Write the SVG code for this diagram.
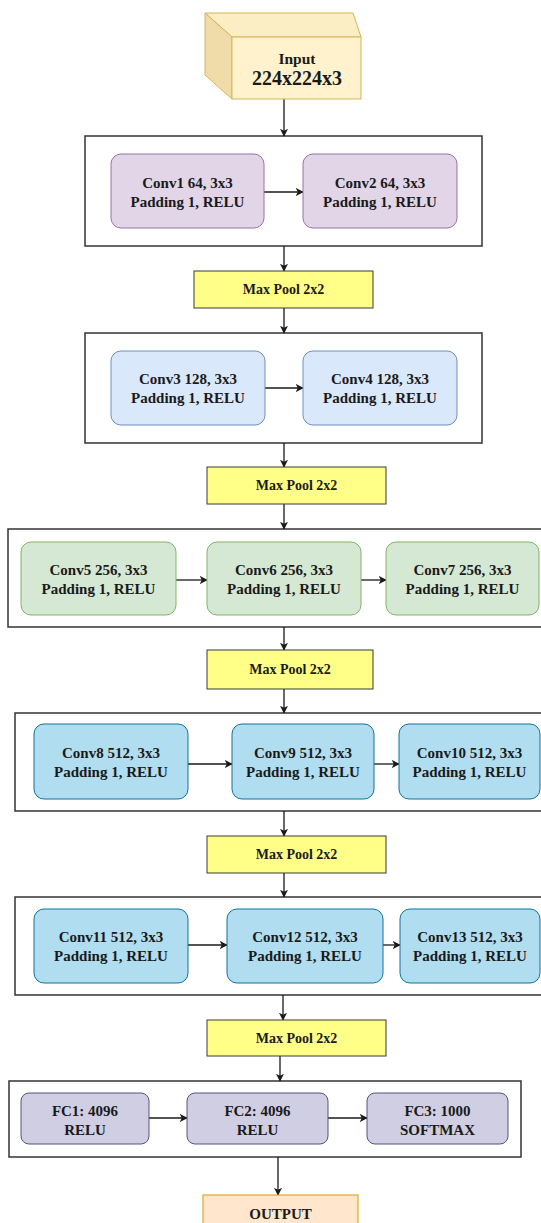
<svg xmlns="http://www.w3.org/2000/svg" width="541" height="1223" viewBox="0 0 541 1223">
  <style>
    text { font-family: "Liberation Serif", "Times New Roman", serif; font-weight: bold; fill: #1a1a1a; text-anchor: middle; }
    .t15 { font-size: 15px; }
    .t14 { font-size: 14px; }
    .stage { fill: #ffffff; stroke: #333333; stroke-width: 1.5; }
    .purple { fill: #e1d5e7; stroke: #9673a6; stroke-width: 1; }
    .sky { fill: #dae8fc; stroke: #6c8ebf; stroke-width: 1; }
    .green { fill: #d5e8d4; stroke: #82b366; stroke-width: 1; }
    .blue { fill: #b1ddf0; stroke: #10739e; stroke-width: 1; }
    .fc { fill: #d0cee2; stroke: #56517e; stroke-width: 1; }
    .pool { fill: #ffff88; stroke: #36393d; stroke-width: 1; }
    .out { fill: #ffe6cc; stroke: #d79b00; stroke-width: 1; }
    .edge { fill: none; stroke: #1a1a1a; stroke-width: 1.3; marker-end: url(#arrow); }
  </style>
  <defs>
    <marker id="arrow" viewBox="0 0 10 10" refX="9" refY="5" markerWidth="8" markerHeight="8" markerUnits="userSpaceOnUse" orient="auto">
      <path d="M0,0 L10,5 L0,10 L2.5,5 Z" fill="#1a1a1a"/>
    </marker>
  </defs>

  <!-- stage frames -->
  <g id="stages">
    <rect id="stage1" class="stage" x="85" y="136" width="397" height="110"/>
    <rect id="stage2" class="stage" x="85" y="333" width="397" height="110"/>
    <rect id="stage3" class="stage" x="8" y="529" width="535" height="98"/>
    <rect id="stage4" class="stage" x="15" y="713" width="528" height="98"/>
    <rect id="stage5" class="stage" x="15" y="897" width="528" height="98"/>
    <rect id="stage6" class="stage" x="9" y="1081" width="512" height="76"/>
  </g>

  <!-- connectors -->
  <g id="connectors">
    <line class="edge" x1="284" y1="99" x2="284" y2="136"/>
    <line class="edge" x1="284" y1="246" x2="284" y2="271"/>
    <line class="edge" x1="284" y1="308" x2="284" y2="333"/>
    <line class="edge" x1="284" y1="443" x2="284" y2="467"/>
    <line class="edge" x1="284" y1="504" x2="284" y2="529"/>
    <line class="edge" x1="284" y1="627" x2="284" y2="650"/>
    <line class="edge" x1="284" y1="689" x2="284" y2="713"/>
    <line class="edge" x1="284" y1="811" x2="284" y2="836"/>
    <line class="edge" x1="284" y1="873" x2="284" y2="897"/>
    <line class="edge" x1="283" y1="995" x2="283" y2="1020"/>
    <line class="edge" x1="280" y1="1056" x2="280" y2="1081"/>
    <line class="edge" x1="278" y1="1157" x2="278" y2="1195"/>

    <line class="edge" x1="264" y1="192" x2="303" y2="192"/>
    <line class="edge" x1="265" y1="388" x2="303" y2="388"/>
    <line class="edge" x1="176" y1="580" x2="207" y2="580"/>
    <line class="edge" x1="361" y1="580" x2="386" y2="580"/>
    <line class="edge" x1="188" y1="764" x2="232" y2="764"/>
    <line class="edge" x1="374" y1="764" x2="399" y2="764"/>
    <line class="edge" x1="188" y1="945" x2="227" y2="945"/>
    <line class="edge" x1="383" y1="945" x2="400" y2="945"/>
    <line class="edge" x1="149" y1="1118" x2="187" y2="1118"/>
    <line class="edge" x1="328" y1="1118" x2="367" y2="1118"/>
  </g>

  <!-- input volume -->
  <g id="input">
    <polygon points="205,13 353,13 361,37 232,37" fill="#fbedc4" stroke="#d6b656" stroke-width="1"/>
    <polygon points="205,13 232,37 232,99 205,75" fill="#f0dca8" stroke="#d6b656" stroke-width="1"/>
    <rect x="232" y="37" width="129" height="62" fill="#fff2cc" stroke="#d6b656" stroke-width="1"/>
    <text x="297" y="64" style="font-size:15.5px">Input</text>
    <text x="297" y="85" style="font-size:20px">224x224x3</text>
  </g>

  <!-- stage 1 -->
  <g id="conv1">
    <rect class="purple" x="111" y="154" width="153" height="74" rx="10"/>
    <text class="t15" x="187.5" y="188">Conv1 64, 3x3</text>
    <text class="t15" x="187.5" y="207">Padding 1, RELU</text>
  </g>
  <g id="conv2">
    <rect class="purple" x="303" y="154" width="154" height="74" rx="10"/>
    <text class="t15" x="380" y="188">Conv2 64, 3x3</text>
    <text class="t15" x="380" y="207">Padding 1, RELU</text>
  </g>
  <g id="pool1">
    <rect class="pool" x="194" y="271" width="179" height="37"/>
    <text class="t14" x="283.5" y="294">Max Pool 2x2</text>
  </g>

  <!-- stage 2 -->
  <g id="conv3">
    <rect class="sky" x="111" y="351" width="154" height="74" rx="10"/>
    <text class="t15" x="188" y="384">Conv3 128, 3x3</text>
    <text class="t15" x="188" y="403">Padding 1, RELU</text>
  </g>
  <g id="conv4">
    <rect class="sky" x="303" y="351" width="154" height="74" rx="10"/>
    <text class="t15" x="380" y="384">Conv4 128, 3x3</text>
    <text class="t15" x="380" y="403">Padding 1, RELU</text>
  </g>
  <g id="pool2">
    <rect class="pool" x="207" y="467" width="179" height="37"/>
    <text class="t14" x="296.5" y="490">Max Pool 2x2</text>
  </g>

  <!-- stage 3 -->
  <g id="conv5">
    <rect class="green" x="21" y="542" width="155" height="73" rx="10"/>
    <text class="t15" x="98.5" y="575">Conv5 256, 3x3</text>
    <text class="t15" x="98.5" y="594">Padding 1, RELU</text>
  </g>
  <g id="conv6">
    <rect class="green" x="207" y="542" width="154" height="73" rx="10"/>
    <text class="t15" x="284" y="575">Conv6 256, 3x3</text>
    <text class="t15" x="284" y="594">Padding 1, RELU</text>
  </g>
  <g id="conv7">
    <rect class="green" x="386" y="542" width="153" height="73" rx="10"/>
    <text class="t15" x="462.5" y="575">Conv7 256, 3x3</text>
    <text class="t15" x="462.5" y="594">Padding 1, RELU</text>
  </g>
  <g id="pool3">
    <rect class="pool" x="207" y="650" width="166" height="39"/>
    <text class="t14" x="290" y="674">Max Pool 2x2</text>
  </g>

  <!-- stage 4 -->
  <g id="conv8">
    <rect class="blue" x="34" y="724" width="154" height="75" rx="10"/>
    <text class="t15" x="111" y="758">Conv8 512, 3x3</text>
    <text class="t15" x="111" y="777">Padding 1, RELU</text>
  </g>
  <g id="conv9">
    <rect class="blue" x="232" y="724" width="142" height="75" rx="10"/>
    <text class="t15" x="303" y="758">Conv9 512, 3x3</text>
    <text class="t15" x="303" y="777">Padding 1, RELU</text>
  </g>
  <g id="conv10">
    <rect class="blue" x="399" y="724" width="141" height="75" rx="10"/>
    <text class="t15" x="469.5" y="758">Conv10 512, 3x3</text>
    <text class="t15" x="469.5" y="777">Padding 1, RELU</text>
  </g>
  <g id="pool4">
    <rect class="pool" x="207" y="836" width="179" height="37"/>
    <text class="t14" x="296.5" y="859">Max Pool 2x2</text>
  </g>

  <!-- stage 5 -->
  <g id="conv11">
    <rect class="blue" x="34" y="909" width="154" height="74" rx="10"/>
    <text class="t15" x="111" y="942">Conv11 512, 3x3</text>
    <text class="t15" x="111" y="961">Padding 1, RELU</text>
  </g>
  <g id="conv12">
    <rect class="blue" x="227" y="909" width="156" height="74" rx="10"/>
    <text class="t15" x="305" y="942">Conv12 512, 3x3</text>
    <text class="t15" x="305" y="961">Padding 1, RELU</text>
  </g>
  <g id="conv13">
    <rect class="blue" x="400" y="909" width="140" height="74" rx="10"/>
    <text class="t15" x="470" y="942">Conv13 512, 3x3</text>
    <text class="t15" x="470" y="961">Padding 1, RELU</text>
  </g>
  <g id="pool5">
    <rect class="pool" x="207" y="1020" width="179" height="36"/>
    <text class="t14" x="296.5" y="1043">Max Pool 2x2</text>
  </g>

  <!-- stage 6: fully connected -->
  <g id="fc1">
    <rect class="fc" x="21" y="1093" width="128" height="51" rx="8"/>
    <text class="t15" x="85" y="1116">FC1: 4096</text>
    <text class="t15" x="85" y="1135">RELU</text>
  </g>
  <g id="fc2">
    <rect class="fc" x="187" y="1093" width="141" height="51" rx="8"/>
    <text class="t15" x="257.5" y="1116">FC2: 4096</text>
    <text class="t15" x="257.5" y="1135">RELU</text>
  </g>
  <g id="fc3">
    <rect class="fc" x="367" y="1093" width="141" height="51" rx="8"/>
    <text class="t15" x="437.5" y="1116">FC3: 1000</text>
    <text class="t15" x="437.5" y="1135">SOFTMAX</text>
  </g>

  <!-- output -->
  <g id="output">
    <rect class="out" x="203" y="1195" width="155" height="40"/>
    <text class="t15" x="280.5" y="1219">OUTPUT</text>
  </g>
</svg>
